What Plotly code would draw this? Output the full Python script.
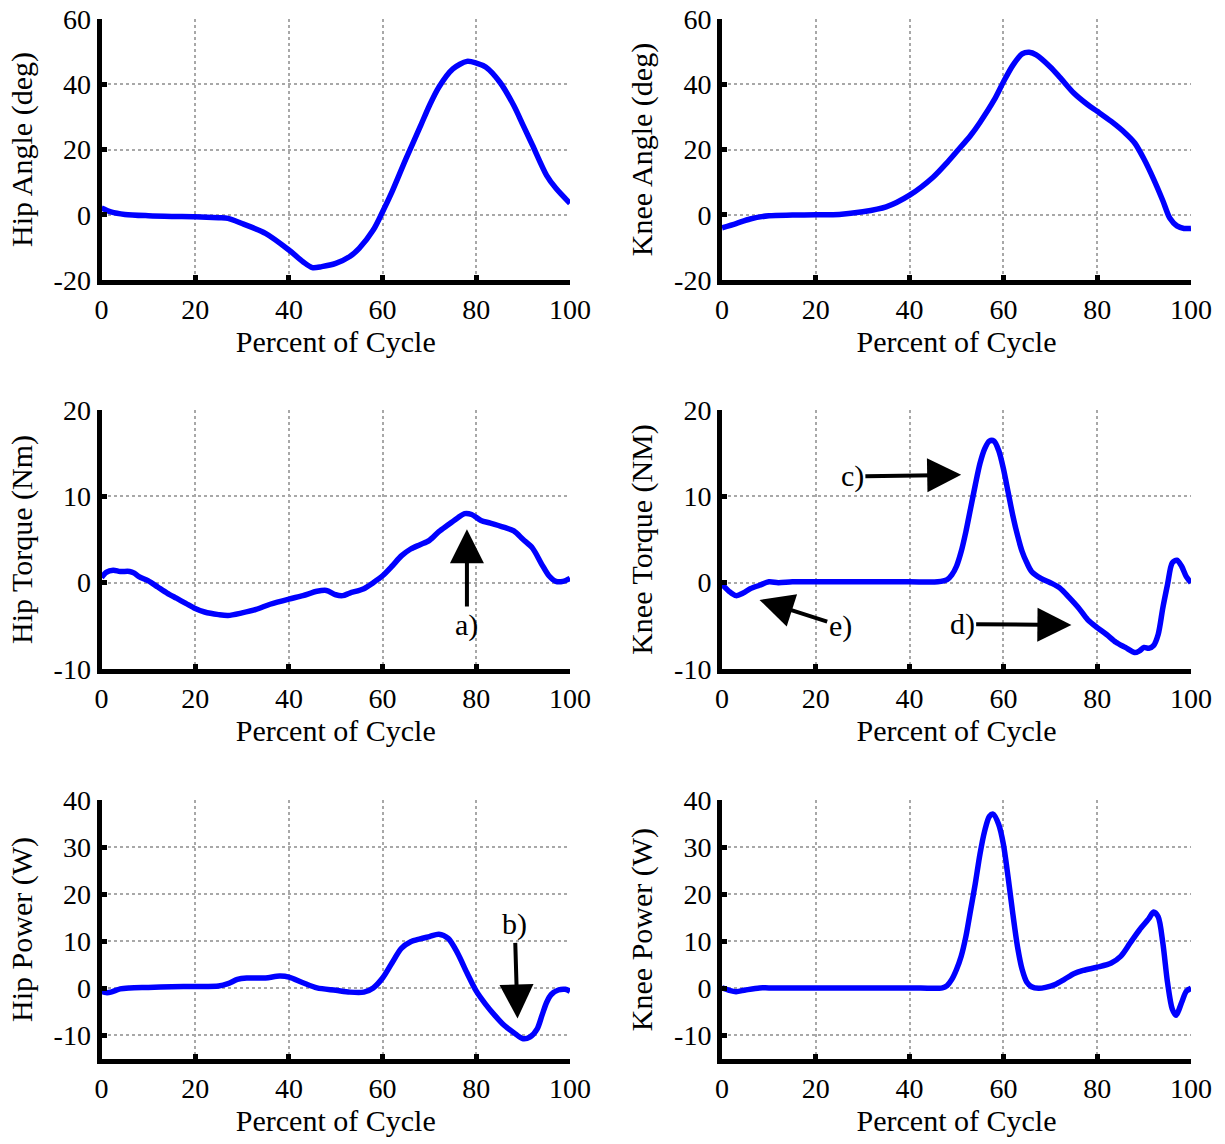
import plotly.graph_objects as go
from plotly.subplots import make_subplots

# ---------------- data ----------------
hip_angle_x = [0, 2, 5, 10, 15, 20, 25, 27, 30, 35, 40, 43, 45, 47, 50, 53, 55, 58, 60, 62, 65, 68, 70, 72, 75, 78, 80, 82, 85, 88, 90, 92, 95, 97, 100]
hip_angle_y = [2.1, 0.9, 0.1, -0.3, -0.5, -0.6, -0.9, -1.1, -2.7, -5.7, -10.8, -14.4, -16.2, -15.9, -14.9, -12.8, -10.3, -4.7, 0.9, 7.0, 17.2, 26.9, 33.5, 39.1, 44.7, 47.0, 46.5, 45.3, 40.7, 33.5, 27.4, 21.3, 12.1, 8.1, 3.5]

knee_angle_x = [0, 3, 6, 10, 15, 20, 25, 30, 35, 40, 45, 48, 50, 53, 55, 58, 60, 62, 64, 65.5, 67, 70, 72, 75, 78, 80, 83, 86, 88, 90, 92, 94, 95.5, 97, 98.5, 100]
knee_angle_y = [-4.0, -2.7, -1.3, -0.3, -0.1, 0.0, 0.1, 0.9, 2.4, 6.0, 11.5, 16.0, 19.3, 24.3, 28.3, 35.1, 40.7, 45.8, 49.3, 49.8, 49.0, 45.3, 42.2, 37.3, 33.7, 31.7, 28.6, 25.0, 22.0, 17.0, 11.0, 4.3, -1.1, -3.4, -4.2, -4.2]

hip_torque_x = [0, 1, 2.5, 4, 6, 7, 8, 10, 12, 14, 16, 18, 20, 22, 25, 27, 30, 33, 36, 40, 43, 46, 48, 50, 51.5, 53, 56, 58, 60, 62, 64, 66, 68, 70, 72, 74, 76, 77.5, 79, 81, 83, 86, 88, 90, 92, 94, 95.5, 97, 98.5, 100]
hip_torque_y = [0.6, 1.2, 1.45, 1.3, 1.3, 1.1, 0.7, 0.2, -0.5, -1.2, -1.8, -2.4, -3.0, -3.4, -3.7, -3.8, -3.5, -3.1, -2.5, -1.9, -1.5, -1.0, -0.9, -1.4, -1.5, -1.2, -0.7, 0.0, 0.8, 1.9, 3.1, 3.9, 4.4, 4.9, 5.9, 6.7, 7.5, 8.0, 7.9, 7.2, 6.9, 6.4, 6.0, 5.0, 4.0, 2.1, 0.8, 0.15, 0.15, 0.5]

knee_torque_x = [0, 1.5, 3, 4.5, 6, 8, 10, 12, 15, 20, 30, 40, 46, 48, 49, 50, 51, 52, 53, 54, 55, 56, 57, 58, 59, 60, 61, 62, 63, 64, 65, 66, 68, 70, 72, 74, 76, 78, 80, 82, 84, 86, 88, 89, 90, 91, 92, 93, 94, 95, 96, 97, 98, 99, 100]
knee_torque_y = [-0.2, -1.0, -1.5, -1.2, -0.7, -0.3, 0.1, 0.0, 0.1, 0.1, 0.1, 0.1, 0.1, 0.35, 0.9, 1.9, 3.6, 5.9, 8.6, 11.3, 13.8, 15.5, 16.4, 16.4, 15.3, 13.2, 10.5, 7.8, 5.5, 3.6, 2.3, 1.3, 0.5, 0.0, -0.6, -1.7, -2.9, -4.3, -5.2, -6.0, -6.9, -7.5, -8.1, -7.9, -7.5, -7.6, -7.3, -6.0, -2.9, -0.2, 2.3, 2.6, 1.9, 0.7, 0.0]

hip_power_x = [0, 1, 2, 4, 6, 10, 15, 20, 25, 27, 29, 31, 35, 38, 40, 43, 46, 50, 53, 56, 58, 60, 62, 64, 66, 68, 70, 72, 74, 76, 78, 80, 82, 84, 86, 88, 90, 91.5, 93, 94, 95, 96, 97.5, 99, 100]
hip_power_y = [-0.6, -0.9, -0.8, -0.1, 0.1, 0.2, 0.35, 0.4, 0.5, 1.0, 1.9, 2.2, 2.2, 2.6, 2.4, 1.2, 0.1, -0.4, -0.8, -0.8, 0.1, 2.2, 5.4, 8.5, 9.9, 10.5, 11.0, 11.5, 10.6, 7.5, 3.3, -0.6, -3.4, -5.8, -7.9, -9.4, -10.7, -10.3, -8.6, -5.8, -3.0, -1.3, -0.35, -0.2, -0.6]

knee_power_x = [0, 1.5, 3, 5, 8, 10, 20, 30, 40, 47, 48, 49, 50, 51, 52, 53, 54, 55, 56, 57, 57.8, 59, 60, 61, 62, 63, 64, 65, 66, 67.5, 69, 71, 73, 75, 77, 80, 83, 85, 87, 89, 91, 92, 93, 94, 95, 96, 96.8, 98, 99, 100]
knee_power_y = [0.1, -0.4, -0.7, -0.35, 0.1, 0.1, 0.1, 0.1, 0.1, 0.1, 0.6, 1.9, 4.0, 6.8, 11.0, 16.6, 22.2, 28.5, 33.4, 36.5, 37.0, 34.8, 30.6, 23.6, 15.9, 8.9, 4.0, 1.3, 0.35, 0.0, 0.2, 0.8, 1.9, 3.1, 3.8, 4.5, 5.4, 6.8, 9.6, 12.4, 14.8, 16.2, 15.2, 9.6, 1.2, -4.4, -5.7, -3.0, -0.6, 0.0]

x_ticks = [0, 20, 40, 60, 80, 100]
x_label = "Percent of Cycle"

angle_ticks = [-20, 0, 20, 40, 60]
torque_ticks = [-10, 0, 10, 20]
power_ticks = [-10, 0, 10, 20, 30, 40]

panels = [
    # (x, y, ytitle, yrange, yticks)
    (hip_angle_x, hip_angle_y, "Hip Angle (deg)", [-20, 60], angle_ticks),
    (knee_angle_x, knee_angle_y, "Knee Angle (deg)", [-20, 60], angle_ticks),
    (hip_torque_x, hip_torque_y, "Hip Torque (Nm)", [-10, 20], torque_ticks),
    (knee_torque_x, knee_torque_y, "Knee Torque (NM)", [-10, 20], torque_ticks),
    (hip_power_x, hip_power_y, "Hip Power (W)", [-15, 40], power_ticks),
    (knee_power_x, knee_power_y, "Knee Power (W)", [-15, 40], power_ticks),
]

# annotations: (panel index, label, text x, text y, tip x, tip y)
arrow_notes = [
    (2, "a)", 78.0, -4.9, 78.0, 6.2),
    (4, "b)", 88.2, 13.6, 88.8, -6.4),
    (3, "c)", 27.8, 12.3, 51.0, 12.5),
    (3, "d)", 51.2, -4.8, 74.5, -4.9),
    (3, "e)", 25.2, -5.0, 8.0, -2.0),
]

W, H = 1225, 1144
FONT = "Liberation Serif, Times New Roman, serif"

fig = make_subplots(rows=3, cols=2)

col_px = [(101.5, 570), (722, 1191)]
row_px = [(19, 280), (410, 669), (800, 1059)]

for i, (xs, ys, ytitle, yr, yt) in enumerate(panels):
    r, c = i // 2 + 1, i % 2 + 1
    fig.add_trace(go.Scatter(x=xs, y=ys, mode="lines",
                             line=dict(color="#0000ff", width=5.5, shape="spline", smoothing=0.8),
                             showlegend=False, hoverinfo="skip"), row=r, col=c)
    x0, x1 = col_px[c - 1]
    y0, y1 = row_px[r - 1]
    common = dict(showline=True, linecolor="black", linewidth=5, mirror=False,
                  showgrid=True, gridcolor="#a8a8a8", griddash="dot", gridwidth=1.5,
                  ticks="inside", ticklen=5, tickwidth=5, tickcolor="black",
                  tickfont=dict(family=FONT, size=28, color="black"),
                  zeroline=False, automargin=False, fixedrange=True)
    fig.update_xaxes(range=[0, 100], tickvals=x_ticks, ticktext=[str(v) for v in x_ticks],
                     domain=[x0 / W, x1 / W],
                     title=dict(text=x_label, font=dict(family=FONT, size=30, color="black"), standoff=8),
                     row=r, col=c, **common)
    fig.update_yaxes(range=yr, tickvals=yt, ticktext=[str(v) for v in yt],
                     domain=[1 - y1 / H, 1 - y0 / H],
                     title=dict(text=ytitle, font=dict(family=FONT, size=30, color="black"), standoff=14),
                     row=r, col=c, **common)

for (pi, label, tx, ty, hx, hy) in arrow_notes:
    n = pi + 1
    xr = "x" if n == 1 else f"x{n}"
    yr_ = "y" if n == 1 else f"y{n}"
    fig.add_annotation(x=hx, y=hy, xref=xr, yref=yr_, ax=tx, ay=ty, axref=xr, ayref=yr_,
                       text=label, showarrow=True, arrowhead=2, arrowsize=1.7, arrowwidth=4,
                       arrowcolor="black", font=dict(family=FONT, size=30, color="black"))

fig.update_layout(width=W, height=H, margin=dict(l=0, r=0, t=0, b=0),
                  paper_bgcolor="white", plot_bgcolor="white", showlegend=False)

fig.write_html("out.html", config={"displayModeBar": False},
               post_script="document.body.style.margin='0';")
